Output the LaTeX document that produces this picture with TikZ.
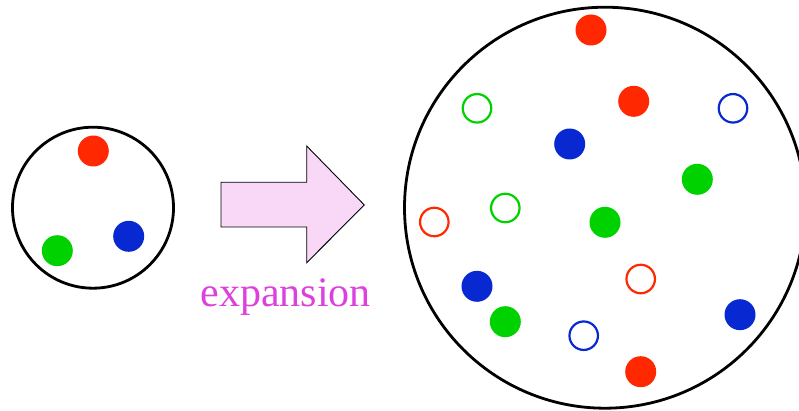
\documentclass[tikz,border=0pt]{standalone}
\usepackage{fontspec}
\setmainfont{Liberation Serif}
\definecolor{dred}{RGB}{255,40,0}
\definecolor{dgreen}{RGB}{0,210,0}
\definecolor{dblue}{RGB}{8,40,210}
\definecolor{apink}{RGB}{248,216,246}
\definecolor{tmag}{RGB}{221,65,221}
\tikzset{
  full/.style={circle,fill=#1,draw=none,minimum size=31pt,inner sep=0pt},
  hollow/.style={circle,draw=#1,line width=2.2pt,fill=none,minimum size=28.5pt,inner sep=0pt},
  ring/.style={draw=black,line width=2.8pt}
}
\begin{document}
\begin{tikzpicture}[x=1pt,y=-1pt]
\useasboundingbox (0,0) rectangle (799,411);
% small universe
\node[ring,circle,minimum size=161pt,inner sep=0pt] (small) at (93,207.7) {};
\node[full=dred] (s1) at (93.3,151) {};
\node[full=dgreen] (s2) at (57.3,250.7) {};
\node[full=dblue] (s3) at (128.7,236.3) {};
% arrow
\draw[fill=apink,draw=black,line width=0.9pt,line join=miter]
  (221,182.3) -- (306.7,182.3) -- (306.7,146) -- (364.3,205) -- (306.7,262.7) -- (306.7,227) -- (221,227) -- cycle;
\node[anchor=base,text=tmag,inner sep=0pt,font=\fontsize{42}{50}\selectfont] (lbl) at (285.8,306.7) {expansion};
% big universe
\draw[ring] (605,207.7) circle (200.5);
\node[full=dred] (r1) at (591,30) {};
\node[full=dred] (r2) at (633.7,101.3) {};
\node[full=dred] (r3) at (640.7,371.7) {};
\node[full=dblue] (b1) at (569.7,144) {};
\node[full=dblue] (b2) at (477,286.3) {};
\node[full=dblue] (b3) at (740,314.7) {};
\node[full=dgreen] (g1) at (697.3,179.3) {};
\node[full=dgreen] (g2) at (605,222.3) {};
\node[full=dgreen] (g3) at (505.3,321.7) {};
\node[hollow=dgreen] (og1) at (477,108.3) {};
\node[hollow=dgreen] (og2) at (505.3,208) {};
\node[hollow=dblue] (ob1) at (733,108.3) {};
\node[hollow=dblue] (ob2) at (583.7,335.7) {};
\node[hollow=dred] (or1) at (434.3,222) {};
\node[hollow=dred] (or2) at (640.7,279) {};
\end{tikzpicture}
\end{document}
